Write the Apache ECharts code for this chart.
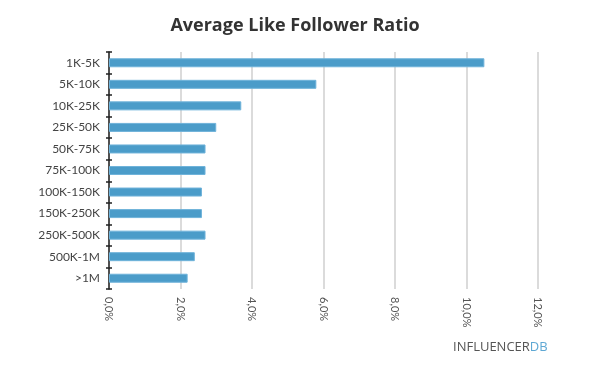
<!DOCTYPE html>
<html>
<head>
<meta charset="utf-8">
<script src="https://cdn.jsdelivr.net/npm/echarts@6/dist/echarts.min.js"></script>
<style>
  html, body { margin: 0; padding: 0; background: #fff; }
  #chart { width: 598px; height: 378px; }
</style>
</head>
<body>
<div id="chart"></div>
<script>
// categories, top to bottom
const categories = ['1K-5K', '5K-10K', '10K-25K', '25K-50K', '50K-75K', '75K-100K',
  '100K-150K', '150K-250K', '250K-500K', '500K-1M', '>1M']
// average like/follower ratio, percent
const ratio = [10.5, 5.8, 3.7, 3.0, 2.7, 2.7, 2.6, 2.6, 2.7, 2.4, 2.2]
const xTicks = [0, 2, 4, 6, 8, 10, 12]

const chart = echarts.init(document.getElementById('chart'))

const labelFont = 'Lato, "Open Sans", sans-serif'

const option = {
  animation: false,
  title: {
    text: 'Average Like Follower Ratio',
    left: 290,
    textAlign: 'center',
    top: 12,
    textStyle: { fontFamily: '"Open Sans", sans-serif', fontWeight: 'bold', fontSize: 18, color: '#333' }
  },
  grid: { left: 109, right: 60, top: 52, height: 237 },
  xAxis: {
    type: 'value',
    min: xTicks[0],
    max: xTicks[xTicks.length - 1],
    interval: 2,
    axisLine: { show: false },
    axisTick: { show: false },
    splitLine: { show: true, lineStyle: { color: '#cfcfcf', width: 1.5 } },
    axisLabel: {
      rotate: -90,
      margin: 8,
      color: '#555',
      fontFamily: labelFont,
      fontSize: 11,
      formatter: v => v.toFixed(1).replace('.', ',') + '%'
    }
  },
  yAxis: [{
    type: 'category',
    data: categories,
    inverse: true,
    axisLine: { show: true, lineStyle: { color: '#222', width: 1.5 } },
    axisTick: { show: true, length: 3, lineStyle: { color: '#222', width: 1.5 } },
    axisLabel: { color: '#444', fontFamily: labelFont, fontSize: 12, margin: 9 }
  }, {
    type: 'category',
    data: categories,
    inverse: true,
    position: 'left',
    axisLine: { show: false },
    axisTick: { show: true, inside: true, length: 3, lineStyle: { color: '#222', width: 1.5 } },
    axisLabel: { show: false }
  }],
  series: [{
    type: 'bar',
    data: ratio,
    barWidth: 9,
    itemStyle: { color: '#4b9cc9', borderColor: '#6fb3da', borderWidth: 1 }
  }],
  graphic: [{
    type: 'text',
    left: 453,
    top: 341,
    style: {
      text: '{a|INFLUENCER}{b|DB}',
      rich: {
        a: { fill: '#555', fontFamily: '"Open Sans", sans-serif', fontSize: 13 },
        b: { fill: '#5ea8d4', fontFamily: '"Open Sans", sans-serif', fontSize: 13 }
      }
    }
  }]
}

chart.setOption(option)
</script>
</body>
</html>
